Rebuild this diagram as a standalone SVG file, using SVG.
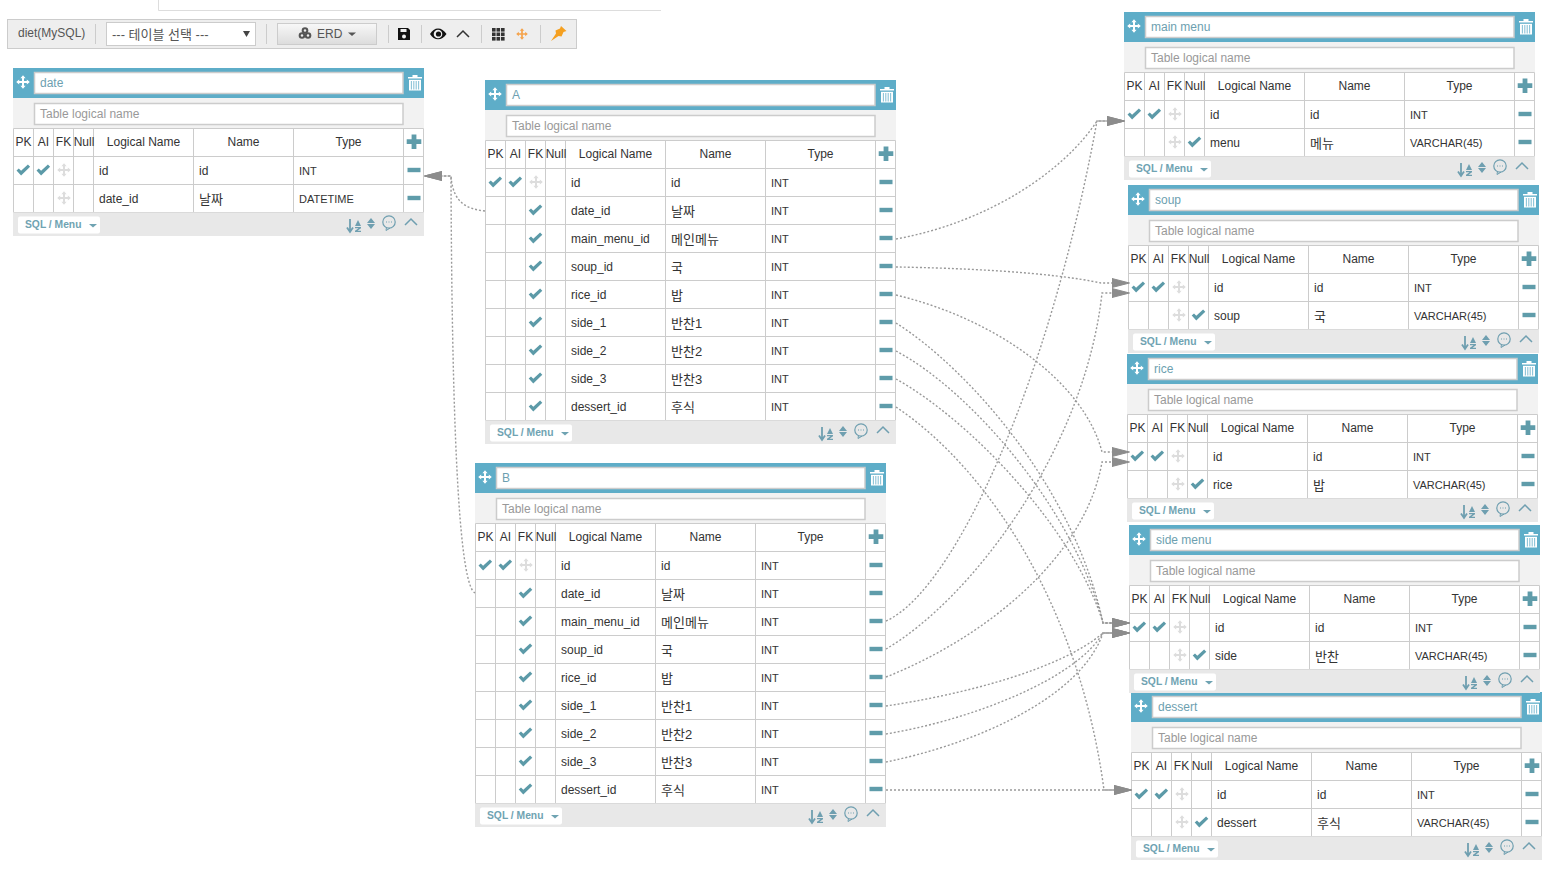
<svg xmlns="http://www.w3.org/2000/svg" width="1563" height="882" viewBox="0 0 1563 882">
<style>
text{font-family:"Liberation Sans","Noto Sans CJK KR",sans-serif;font-size:12px;fill:#333}
.nm{fill:#6d9fb0}
.ph{fill:#999}
.c{text-anchor:middle}
.ty{font-size:11px}
.ko{font-size:13px}
.sq{font-size:10.3px;font-weight:bold;fill:#6fa3b2}
.grid{fill:none;stroke:#ccc;stroke-width:1}
.inp{fill:#fff;stroke:#ccc;stroke-width:1.5}
.lk{fill:none;stroke:#999;stroke-width:1.4;stroke-dasharray:2 2;marker-end:url(#arr)}
.tb{fill:#555}
.sep{stroke:#ccc;stroke-width:1}
</style>
<defs>
<marker id="arr" viewBox="0 0 18 10" refX="0" refY="5" markerWidth="18" markerHeight="10" markerUnits="userSpaceOnUse" orient="auto"><path d="M0 0.5L17.5 5L0 9.5Z" fill="#8c8c8c" stroke="#8c8c8c" stroke-width="1"/></marker>
<linearGradient id="btn" x1="0" y1="0" x2="0" y2="1"><stop offset="0" stop-color="#f8f8f8"/><stop offset="1" stop-color="#dcdcdc"/></linearGradient>
<path id="ck" d="M-6.8 0.6L-4.5 -1.6L-2.2 0.8L4.6 -5.4L6.8 -3.2L-2.2 5.4Z" fill="#5c9aa8"/>
<path id="mv" d="M0 -6.8L2.6 -3.8H1V-1H3.8V-2.6L6.8 0L3.8 2.6V1H1V3.8H2.6L0 6.8L-2.6 3.8H-1V1H-3.8V2.6L-6.8 0L-3.8 -2.6V-1H-1V-3.8H-2.6Z"/>
<rect id="mn" x="-6.5" y="-2.2" width="13" height="4.4" fill="#5f9caa"/>
<g id="top">
<rect x="0" y="0" width="411" height="30" fill="#5eadc8"/>
<rect x="0" y="30" width="411" height="30.500" fill="#f2f2f2"/>
<rect class="inp" x="21.500" y="4.500" width="368.500" height="21"/>
<rect class="inp" x="21.500" y="35.500" width="368.500" height="21"/>
<use href="#mv" x="10" y="14" fill="#fff"/>
<g transform="translate(402,15)"><path d="M-7 -6H7V-4.400H-7ZM-2.500 -6V-8H2.500V-6" fill="#fff"/><path d="M-6 -3.200H6V7.500H-6Z" fill="#fff"/><path d="M-3.600 -2V6.500M-1.200 -2V6.500M1.200 -2V6.500M3.600 -2V6.500" stroke="#8cc4d8" stroke-width="1.100"/></g>
<path d="M401 66.500V81M393.700 73.700H408.300" stroke="#5f9caa" stroke-width="4.800" fill="none"/>
</g>
<g id="foot">
<rect x="0" y="0" width="411" height="23.500" fill="#e8e8e8"/>
<rect x="5" y="4" width="82" height="17" rx="2" fill="#fff"/>
<path d="M76 11.500H84L80 15Z" fill="#6fa3b2"/>
<g fill="#6f9fb0"><path d="M337 6.500V18M334 15L337 19.500L340 15" fill="none" stroke="#6f9fb0" stroke-width="1.800"/><path d="M342 13.500L345 7.500L348 13.500Z"/><path d="M342 14.500H348V15.800L344.500 18.200H348V19.500H342V18.200L345.500 15.800H342Z"/><path d="M354 10.500L358 5.500L362 10.500ZM354 11.500L358 16.500L362 11.500Z"/></g>
<circle cx="376" cy="9.500" r="6.200" fill="none" stroke="#6f9fb0" stroke-width="1.200"/><path d="M373.500 14.800L373 18L377 15.700" fill="none" stroke="#6f9fb0" stroke-width="1"/><path d="M373 9.500h1M375.500 9.500h1M378 9.500h1" stroke="#6f9fb0" stroke-width="1.200"/>
<path d="M392 12.500L398 6.500L404 12.500" fill="none" stroke="#6f9fb0" stroke-width="1.500"/>
</g>
<g id="g2">
<path class="grid" d="M0.500 60.500H410.500M0.500 88.500H410.500M0.500 116.500H410.500M0.500 144.500H410.500M0.500 60.500V144.500M20.500 60.500V144.500M40.500 60.500V144.500M60.500 60.500V144.500M80.500 60.500V144.500M180.500 60.500V144.500M280.500 60.500V144.500M390.500 60.500V144.500M410.500 60.500V144.500"/>
<use href="#ck" x="10.300" y="102"/><use href="#ck" x="30.300" y="102"/><use href="#mv" x="51" y="102" fill="#ddd"/><use href="#mv" x="51" y="130" fill="#ddd"/>
<use href="#mn" x="401" y="102"/><use href="#mn" x="401" y="130"/>
<use href="#foot" y="144.500"/>
</g>
<g id="g9">
<path class="grid" d="M0.500 60.500H410.500M0.500 88.500H410.500M0.500 116.500H410.500M0.500 144.500H410.500M0.500 172.500H410.500M0.500 200.500H410.500M0.500 228.500H410.500M0.500 256.500H410.500M0.500 284.500H410.500M0.500 312.500H410.500M0.500 340.500H410.500M0.500 60.500V340.500M20.500 60.500V340.500M40.500 60.500V340.500M60.500 60.500V340.500M80.500 60.500V340.500M180.500 60.500V340.500M280.500 60.500V340.500M390.500 60.500V340.500M410.500 60.500V340.500"/>
<use href="#ck" x="10.300" y="102"/><use href="#ck" x="30.300" y="102"/><use href="#mv" x="51" y="102" fill="#ddd"/>
<use href="#ck" x="50.500" y="130"/><use href="#ck" x="50.500" y="158"/><use href="#ck" x="50.500" y="186"/><use href="#ck" x="50.500" y="214"/><use href="#ck" x="50.500" y="242"/><use href="#ck" x="50.500" y="270"/><use href="#ck" x="50.500" y="298"/><use href="#ck" x="50.500" y="326"/>
<use href="#mn" x="401" y="102"/><use href="#mn" x="401" y="130"/><use href="#mn" x="401" y="158"/><use href="#mn" x="401" y="186"/><use href="#mn" x="401" y="214"/><use href="#mn" x="401" y="242"/><use href="#mn" x="401" y="270"/><use href="#mn" x="401" y="298"/><use href="#mn" x="401" y="326"/>
<use href="#foot" y="340.500"/>
</g>
</defs>
<rect width="1563" height="882" fill="#fff"/>
<path d="M158.500 0V10.500H661" fill="none" stroke="#ddd"/>
<g id="toolbar">
<rect x="7.500" y="19.500" width="569" height="29" fill="#eee" stroke="#ccc"/>
<text class="tb" x="18" y="36.500">diet(MySQL)</text>
<path class="sep" d="M95.500 24V44M266.500 24V44M388.500 25V43M421.500 25V43M481.500 25V43M540.500 25V43"/>
<rect x="106.500" y="22.500" width="149" height="23" fill="#fff" stroke="#ccc"/>
<text class="tb ko" x="112" y="39">--- 테이블 선택 ---</text>
<path d="M243 31H250L246.500 37Z" fill="#444"/>
<rect x="277.500" y="23.500" width="99" height="21" fill="url(#btn)" stroke="#ccc"/>
<g fill="#555"><circle cx="305" cy="30.500" r="3.300"/><circle cx="302" cy="35.500" r="3.300"/><circle cx="308" cy="35.500" r="3.300"/></g>
<g fill="#eee"><circle cx="305" cy="30.500" r="1.200"/><circle cx="302" cy="35.500" r="1.200"/><circle cx="308" cy="35.500" r="1.200"/></g>
<text class="tb" x="317" y="38">ERD</text>
<path d="M348 32.500H356L352 36Z" fill="#555"/>
<path d="M398 28H408L410 30V40H398Z" fill="#111"/><rect x="400.500" y="29" width="6" height="3" fill="#eee"/><circle cx="404" cy="36.500" r="2" fill="#eee"/>
<path d="M430 34C434 26.500 442 26.500 446.500 34C442 41 434 41 430 34Z" fill="#111"/><circle cx="438" cy="34" r="4.300" fill="#eee"/><circle cx="438.500" cy="34" r="2.600" fill="#111"/>
<path d="M457 37L463 31L469 37" fill="none" stroke="#333" stroke-width="1.500"/>
<g fill="#333"><rect x="492" y="28" width="3.600" height="3.600"/><rect x="496.500" y="28" width="3.600" height="3.600"/><rect x="501" y="28" width="3.600" height="3.600"/><rect x="492" y="32.500" width="3.600" height="3.600"/><rect x="496.500" y="32.500" width="3.600" height="3.600"/><rect x="501" y="32.500" width="3.600" height="3.600"/><rect x="492" y="37" width="3.600" height="3.600"/><rect x="496.500" y="37" width="3.600" height="3.600"/><rect x="501" y="37" width="3.600" height="3.600"/></g>
<use href="#mv" transform="translate(522,34) scale(0.85)" fill="#f5a24a"/>
<path d="M561 26L566.500 31L563.500 32L561.500 36.500L558.500 36L551 41L556 33.500L555.500 30.500L560 28.500Z" fill="#f5a020"/>
</g>
<g id="table-date" transform="translate(13,68)">
<use href="#top"/><use href="#g2"/>
<text class="nm" x="27" y="19">date</text><text class="ph" x="27" y="50">Table logical name</text>
<text class="c" x="10.500" y="78">PK</text><text class="c" x="30.500" y="78">AI</text><text class="c" x="50.500" y="78">FK</text><text class="c" x="71" y="78">Null</text><text class="c" x="130.500" y="78">Logical Name</text><text class="c" x="230.500" y="78">Name</text><text class="c" x="335.500" y="78">Type</text>
<text x="86" y="107">id</text><text x="186" y="107">id</text><text class="ty" x="286" y="107">INT</text>
<text x="86" y="135">date_id</text><text class="ko" x="186" y="136">날짜</text><text class="ty" x="286" y="135">DATETIME</text>
<text class="sq" x="12" y="160">SQL / Menu</text>
</g>
<g id="table-A" transform="translate(485,80)">
<use href="#top"/><use href="#g9"/>
<text class="nm" x="27" y="19">A</text><text class="ph" x="27" y="50">Table logical name</text>
<text class="c" x="10.500" y="78">PK</text><text class="c" x="30.500" y="78">AI</text><text class="c" x="50.500" y="78">FK</text><text class="c" x="71" y="78">Null</text><text class="c" x="130.500" y="78">Logical Name</text><text class="c" x="230.500" y="78">Name</text><text class="c" x="335.500" y="78">Type</text>
<text x="86" y="107">id</text><text x="186" y="107">id</text><text class="ty" x="286" y="107">INT</text>
<text x="86" y="135">date_id</text><text class="ko" x="186" y="136">날짜</text><text class="ty" x="286" y="135">INT</text>
<text x="86" y="163">main_menu_id</text><text class="ko" x="186" y="164">메인메뉴</text><text class="ty" x="286" y="163">INT</text>
<text x="86" y="191">soup_id</text><text class="ko" x="186" y="192">국</text><text class="ty" x="286" y="191">INT</text>
<text x="86" y="219">rice_id</text><text class="ko" x="186" y="220">밥</text><text class="ty" x="286" y="219">INT</text>
<text x="86" y="247">side_1</text><text class="ko" x="186" y="248">반찬1</text><text class="ty" x="286" y="247">INT</text>
<text x="86" y="275">side_2</text><text class="ko" x="186" y="276">반찬2</text><text class="ty" x="286" y="275">INT</text>
<text x="86" y="303">side_3</text><text class="ko" x="186" y="304">반찬3</text><text class="ty" x="286" y="303">INT</text>
<text x="86" y="331">dessert_id</text><text class="ko" x="186" y="332">후식</text><text class="ty" x="286" y="331">INT</text>
<text class="sq" x="12" y="356">SQL / Menu</text>
</g>
<g id="table-B" transform="translate(475,463)">
<use href="#top"/><use href="#g9"/>
<text class="nm" x="27" y="19">B</text><text class="ph" x="27" y="50">Table logical name</text>
<text class="c" x="10.500" y="78">PK</text><text class="c" x="30.500" y="78">AI</text><text class="c" x="50.500" y="78">FK</text><text class="c" x="71" y="78">Null</text><text class="c" x="130.500" y="78">Logical Name</text><text class="c" x="230.500" y="78">Name</text><text class="c" x="335.500" y="78">Type</text>
<text x="86" y="107">id</text><text x="186" y="107">id</text><text class="ty" x="286" y="107">INT</text>
<text x="86" y="135">date_id</text><text class="ko" x="186" y="136">날짜</text><text class="ty" x="286" y="135">INT</text>
<text x="86" y="163">main_menu_id</text><text class="ko" x="186" y="164">메인메뉴</text><text class="ty" x="286" y="163">INT</text>
<text x="86" y="191">soup_id</text><text class="ko" x="186" y="192">국</text><text class="ty" x="286" y="191">INT</text>
<text x="86" y="219">rice_id</text><text class="ko" x="186" y="220">밥</text><text class="ty" x="286" y="219">INT</text>
<text x="86" y="247">side_1</text><text class="ko" x="186" y="248">반찬1</text><text class="ty" x="286" y="247">INT</text>
<text x="86" y="275">side_2</text><text class="ko" x="186" y="276">반찬2</text><text class="ty" x="286" y="275">INT</text>
<text x="86" y="303">side_3</text><text class="ko" x="186" y="304">반찬3</text><text class="ty" x="286" y="303">INT</text>
<text x="86" y="331">dessert_id</text><text class="ko" x="186" y="332">후식</text><text class="ty" x="286" y="331">INT</text>
<text class="sq" x="12" y="356">SQL / Menu</text>
</g>
<g id="table-main-menu" transform="translate(1124,12)">
<use href="#top"/><use href="#g2"/><use href="#ck" x="70.500" y="130"/>
<text class="nm" x="27" y="19">main menu</text><text class="ph" x="27" y="50">Table logical name</text>
<text class="c" x="10.500" y="78">PK</text><text class="c" x="30.500" y="78">AI</text><text class="c" x="50.500" y="78">FK</text><text class="c" x="71" y="78">Null</text><text class="c" x="130.500" y="78">Logical Name</text><text class="c" x="230.500" y="78">Name</text><text class="c" x="335.500" y="78">Type</text>
<text x="86" y="107">id</text><text x="186" y="107">id</text><text class="ty" x="286" y="107">INT</text>
<text x="86" y="135">menu</text><text class="ko" x="186" y="136">메뉴</text><text class="ty" x="286" y="135">VARCHAR(45)</text>
<text class="sq" x="12" y="160">SQL / Menu</text>
</g>
<g id="table-soup" transform="translate(1128,185)">
<use href="#top"/><use href="#g2"/><use href="#ck" x="70.500" y="130"/>
<text class="nm" x="27" y="19">soup</text><text class="ph" x="27" y="50">Table logical name</text>
<text class="c" x="10.500" y="78">PK</text><text class="c" x="30.500" y="78">AI</text><text class="c" x="50.500" y="78">FK</text><text class="c" x="71" y="78">Null</text><text class="c" x="130.500" y="78">Logical Name</text><text class="c" x="230.500" y="78">Name</text><text class="c" x="335.500" y="78">Type</text>
<text x="86" y="107">id</text><text x="186" y="107">id</text><text class="ty" x="286" y="107">INT</text>
<text x="86" y="135">soup</text><text class="ko" x="186" y="136">국</text><text class="ty" x="286" y="135">VARCHAR(45)</text>
<text class="sq" x="12" y="160">SQL / Menu</text>
</g>
<g id="table-rice" transform="translate(1127,354)">
<use href="#top"/><use href="#g2"/><use href="#ck" x="70.500" y="130"/>
<text class="nm" x="27" y="19">rice</text><text class="ph" x="27" y="50">Table logical name</text>
<text class="c" x="10.500" y="78">PK</text><text class="c" x="30.500" y="78">AI</text><text class="c" x="50.500" y="78">FK</text><text class="c" x="71" y="78">Null</text><text class="c" x="130.500" y="78">Logical Name</text><text class="c" x="230.500" y="78">Name</text><text class="c" x="335.500" y="78">Type</text>
<text x="86" y="107">id</text><text x="186" y="107">id</text><text class="ty" x="286" y="107">INT</text>
<text x="86" y="135">rice</text><text class="ko" x="186" y="136">밥</text><text class="ty" x="286" y="135">VARCHAR(45)</text>
<text class="sq" x="12" y="160">SQL / Menu</text>
</g>
<g id="table-dessert" transform="translate(1131,692)">
<use href="#top"/><use href="#g2"/><use href="#ck" x="70.500" y="130"/>
<text class="nm" x="27" y="19">dessert</text><text class="ph" x="27" y="50">Table logical name</text>
<text class="c" x="10.500" y="78">PK</text><text class="c" x="30.500" y="78">AI</text><text class="c" x="50.500" y="78">FK</text><text class="c" x="71" y="78">Null</text><text class="c" x="130.500" y="78">Logical Name</text><text class="c" x="230.500" y="78">Name</text><text class="c" x="335.500" y="78">Type</text>
<text x="86" y="107">id</text><text x="186" y="107">id</text><text class="ty" x="286" y="107">INT</text>
<text x="86" y="135">dessert</text><text class="ko" x="186" y="136">후식</text><text class="ty" x="286" y="135">VARCHAR(45)</text>
<text class="sq" x="12" y="160">SQL / Menu</text>
</g>
<g id="table-side-menu" transform="translate(1129,525)">
<use href="#top"/><use href="#g2"/><use href="#ck" x="70.500" y="130"/>
<text class="nm" x="27" y="19">side menu</text><text class="ph" x="27" y="50">Table logical name</text>
<text class="c" x="10.500" y="78">PK</text><text class="c" x="30.500" y="78">AI</text><text class="c" x="50.500" y="78">FK</text><text class="c" x="71" y="78">Null</text><text class="c" x="130.500" y="78">Logical Name</text><text class="c" x="230.500" y="78">Name</text><text class="c" x="335.500" y="78">Type</text>
<text x="86" y="107">id</text><text x="186" y="107">id</text><text class="ty" x="286" y="107">INT</text>
<text x="86" y="135">side</text><text class="ko" x="186" y="136">반찬</text><text class="ty" x="286" y="135">VARCHAR(45)</text>
<text class="sq" x="12" y="160">SQL / Menu</text>
</g>
<g id="connectors">
<path class="lk" d="M485 211C468 209 453 204 451 176H442"/>
<path class="lk" d="M475 593C460 585 452 450 451 176H442"/>
<path class="lk" d="M896 239C990 222 1065 170 1097 121H1107"/>
<path class="lk" d="M886 621C955 590 1050 380 1097 121H1107"/>
<path class="lk" d="M896 267C960 268 1050 272 1101 283H1112"/>
<path class="lk" d="M886 649C970 600 1085 450 1102 293H1112"/>
<path class="lk" d="M896 295C1000 320 1085 385 1102 452H1112"/>
<path class="lk" d="M886 677C980 640 1085 560 1102 462H1112"/>
<path class="lk" d="M896 323C970 370 1075 490 1103 623H1112"/>
<path class="lk" d="M896 351C970 390 1075 510 1103 623H1112"/>
<path class="lk" d="M896 379C970 420 1075 530 1103 623H1112"/>
<path class="lk" d="M886 706C960 695 1060 670 1103 633H1112"/>
<path class="lk" d="M886 734C970 720 1075 680 1103 633H1112"/>
<path class="lk" d="M886 762C970 745 1080 700 1103 633H1112"/>
<path class="lk" d="M896 407C990 470 1080 610 1104 790H1114"/>
<path class="lk" d="M886 790H1114"/>
</g>
</svg>
